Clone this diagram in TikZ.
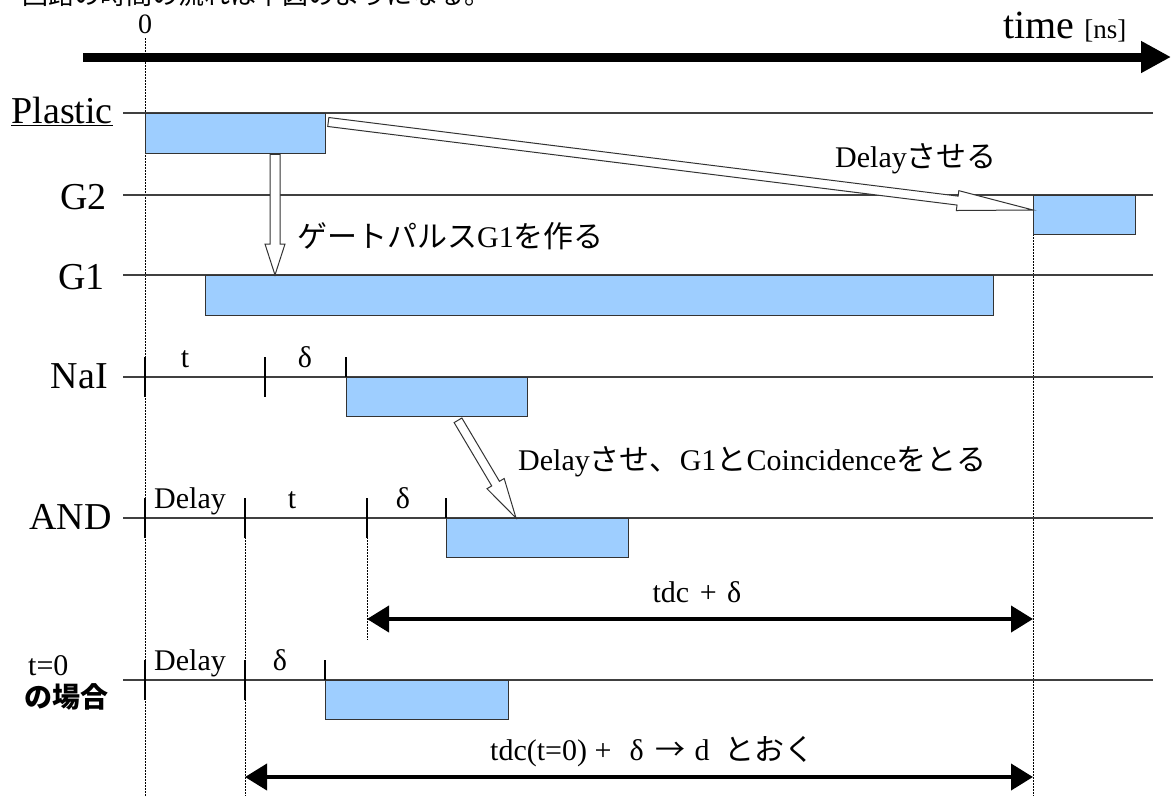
\documentclass[tikz,border=0pt]{standalone}
\usepackage{fontspec}
\setmainfont{Liberation Serif}
\newfontfamily\jp{Noto Sans CJK JP}
\usetikzlibrary{arrows.meta,calc}
\definecolor{pulseblue}{RGB}{158,206,255}
\newcommand\hollowarrow[5]{%
  \coordinate (ha-h) at ($(#2)!#5!(#1)$);
  \draw[hollow] ($(#1)!#3!90:(#2)$) -- ($(ha-h)!#3!90:(#2)$) -- ($(ha-h)!#4!90:(#2)$)
    -- (#2) -- ($(ha-h)!#4!-90:(#2)$) -- ($(ha-h)!#3!-90:(#2)$) -- ($(#1)!#3!-90:(#2)$) -- cycle;}
\begin{document}
\begin{tikzpicture}[x=1pt,y=-1pt,
  sig/.style={draw=black!75, line width=1.3pt},
  pulse/.style={draw=black!80, line width=1.3pt, fill=pulseblue, inner sep=0pt, anchor=north west},
  dots/.style={draw=black, line width=1pt, dash pattern=on 1.5pt off 1.5pt},
  tickmark/.style={draw=black, line width=1.2pt},
  lab/.style={font=\fontsize{38}{40}\selectfont, anchor=base east, inner sep=0pt},
  small/.style={font=\fontsize{30}{32}\selectfont, inner sep=0pt, anchor=base},
  note/.style={font=\fontsize{30}{32}\selectfont, inner sep=0pt, anchor=base west},
  hollow/.style={draw=black!80, line width=1pt, fill=white, line join=miter},
  dim/.style={line width=4pt, {Triangle[length=22pt,width=26pt]}-{Triangle[length=22pt,width=26pt]}},
]
\useasboundingbox (0,0) rectangle (1173,796);
% cut-off heading
\node[font=\jp\fontsize{26}{28}\selectfont, anchor=base west, inner sep=0pt] (head) at (22,4) {回路の時間の流れは下図のようになる。};
% time axis
\coordinate (ax0) at (83,57);
\coordinate (ax1) at (1171,57);
\draw[line width=9pt, -{Triangle[length=30pt,width=30pt]}] (ax0) -- (ax1);
\node[font=\fontsize{28}{30}\selectfont, inner sep=0pt, anchor=base] (zero) at (145,33) {0};
\node[font=\fontsize{40}{42}\selectfont, inner sep=0pt, anchor=base west] (time) at (1003,38) {time {\fontsize{27}{28}\selectfont [ns]}};
% dotted verticals
\coordinate (v0t) at (145,38);  \coordinate (v0b) at (145,796);
\coordinate (v1t) at (245,537); \coordinate (v1b) at (245,796);
\coordinate (v2t) at (367,537); \coordinate (v2b) at (367,640);
\coordinate (v3t) at (1033,234);\coordinate (v3b) at (1033,796);
\draw[dots] (v0t) -- (v0b);
\draw[dots] (v1t) -- (v1b);
\draw[dots] (v2t) -- (v2b);
\draw[dots] (v3t) -- (v3b);
% signal lines
\foreach \n/\y in {lp/113,lg2/195,lg1/275,lnai/377,land/518,lz/680}{
  \coordinate (\n a) at (123,\y); \coordinate (\n b) at (1153,\y);
  \draw[sig] (\n a) -- (\n b);}
% labels
\node[lab] (Lp) at (113,123) {\underline{Plastic}};
\node[lab] (Lg2) at (107,209) {G2};
\node[lab] (Lg1) at (105,289) {G1};
\node[lab] (Lnai) at (108,388) {NaI};
\node[lab] (Land) at (112,529) {AND};
\node[font=\fontsize{30}{32}\selectfont, inner sep=0pt, anchor=base west] (Lt0) at (28,675) {t=0};
\node[font=\jp\bfseries\fontsize{28}{30}\selectfont, inner sep=0pt, anchor=base west] (Lcase) at (24,707) {の場合};
% pulses
\node[pulse, minimum width=180pt, minimum height=40pt] (plas) at (145,113) {};
\node[pulse, minimum width=102pt, minimum height=39pt] (g2) at (1033,195) {};
\node[pulse, minimum width=788pt, minimum height=40pt] (g1) at (205,275) {};
\node[pulse, minimum width=181pt, minimum height=39pt] (nai) at (346,377) {};
\node[pulse, minimum width=182pt, minimum height=39pt] (and) at (446,518) {};
\node[pulse, minimum width=183pt, minimum height=39pt] (zc) at (325,680) {};
% ticks
\draw[tickmark] (145,357) -- (145,397);
\draw[tickmark] (265,357) -- (265,397);
\draw[tickmark] (346,357) -- (nai.north west);
\draw[tickmark] (145,498) -- (145,538);
\draw[tickmark] (245,498) -- (245,538);
\draw[tickmark] (367,498) -- (367,538);
\draw[tickmark] (446,498) -- (and.north west);
\draw[tickmark] (145,660) -- (145,700);
\draw[tickmark] (245,660) -- (245,700);
\draw[tickmark] (325,660) -- (zc.north west);
% tick labels
\node[small] (n1) at (185,367) {t};
\node[small] (n2) at (305,367) {δ};
\node[small] (a1) at (190,508) {Delay};
\node[small] (a2) at (292,508) {t};
\node[small] (a3) at (403,508) {δ};
\node[small] (z1) at (190,670) {Delay};
\node[small] (z2) at (280,670) {δ};
% hollow arrows
\coordinate (h1a) at ($(plas.south west)+(130,0)$);
\coordinate (h1b) at ($(g1.north west)+(70,0)$);
\hollowarrow{h1a}{h1b}{5pt}{10pt}{31pt}
\coordinate (h2a) at ($(plas.north east)+(2,9)$);
\coordinate (h2b) at ($(g2.north west)+(0,15)$);
\hollowarrow{h2a}{h2b}{4.5pt}{10pt}{76pt}
\coordinate (h3a) at ($(nai.south west)+(112,3)$);
\coordinate (h3b) at ($(and.north west)+(70,0)$);
\hollowarrow{h3a}{h3b}{4.5pt}{10pt}{40pt}
% annotations
\node[note] (t1) at (835,167) {Delay\jp させる};
\node[note] (t2) at (297,247) {\jp ゲートパルス\rmfamily G1\jp を作る};
\node[note] (t3) at (518,470) {Delay\jp させ、\rmfamily G1\jp と\rmfamily Coincidence\jp をとる};
% dimension arrows
\coordinate (d1a) at (367,619); \coordinate (d1b) at (1033,619);
\draw[dim] (d1a) -- (d1b);
\node[small] (t4) at (697,602) {tdc\hspace{0.35em}+\hspace{0.35em}δ};
\coordinate (d2a) at (245,777); \coordinate (d2b) at (1033,777);
\draw[dim] (d2a) -- (d2b);
\node[note] (t5) at (490,760) {tdc(t=0) +\hspace{0.6em}δ\hspace{0.4em}{\jp →}\hspace{0.3em}d\hspace{0.5em}{\jp とおく}};
\end{tikzpicture}
\end{document}
